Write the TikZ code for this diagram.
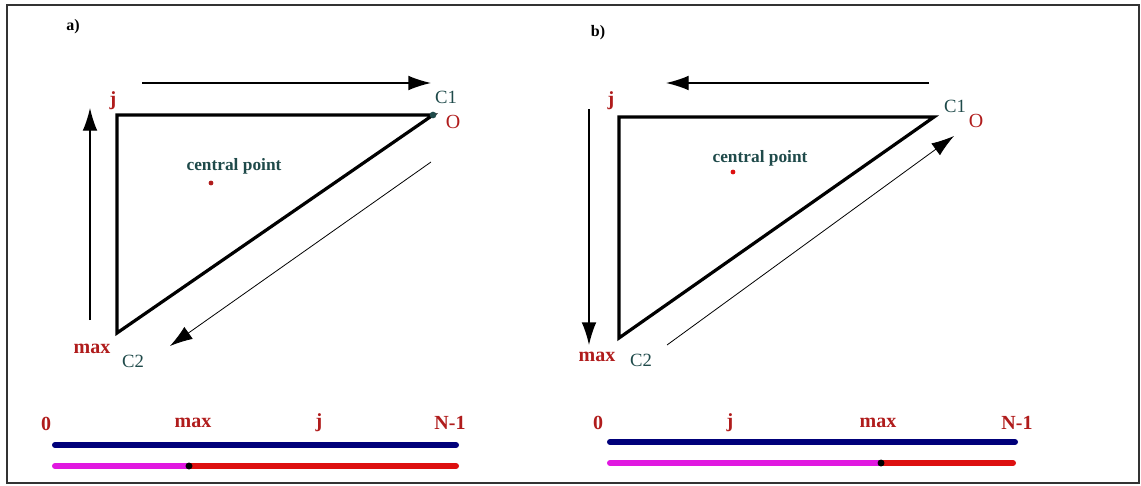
\documentclass[tikz,border=0pt]{standalone}
\usepackage{fontspec}
\setmainfont{Liberation Serif}
\definecolor{LBred}{HTML}{B01C1C}
\definecolor{LBteal}{HTML}{1F4A4A}
\definecolor{BARnavy}{HTML}{00007A}
\definecolor{BARmag}{HTML}{E018E0}
\definecolor{BARred}{HTML}{DD1010}
\usepackage{tikz}
\usetikzlibrary{arrows.meta}

\tikzset{
  redlab/.style={text=LBred,font=\bfseries\fontsize{15}{17}\selectfont,inner sep=0pt},
  teallab/.style={text=LBteal,font=\fontsize{14}{16}\selectfont,inner sep=0pt},
  tri/.style={line width=2.4pt,line join=miter},
  dir/.style={line width=1pt,-{Latex[length=17pt,width=11pt]}},
  thindir/.style={line width=0.6pt,-{Latex[length=17pt,width=11pt]}},
  bar/.style={line width=4.5pt,line cap=round}
}

\begin{document}
\begin{tikzpicture}[x=0.75pt,y=-0.75pt]
  \useasboundingbox (0,0) rectangle (1141,485);
  \draw[line width=1pt,black!80] (7,5) rectangle (1139,483);

  % a)
  \node[font=\bfseries\fontsize{12}{14}\selectfont] (alab) at (73,27) {a)};
  \coordinate (aJ) at (117,115);
  \coordinate (aO) at (433,115);
  \coordinate (aC2) at (117,333);
  \draw[tri] (aJ) -- (aO) -- (aC2) -- cycle;
  \fill[LBteal] (aO) circle (2.5pt);
  \node[redlab] (aj) at (113,101) {j};
  \node[teallab] (ac1) at (446,97) {C1};
  \node[redlab,font=\fontsize{15}{17}\selectfont] (ao) at (453,122) {O};
  \node[redlab] (amax) at (92,349) {max};
  \node[teallab] (ac2) at (133,361) {C2};
  \node[teallab,font=\bfseries\fontsize{13}{15}\selectfont] (acp) at (234,166) {central point};
  \fill[LBred] (211,183) circle (1.8pt);
  \coordinate (atop1) at (142,83);  \coordinate (atop2) at (431,83);
  \coordinate (aup1) at (90,320);   \coordinate (aup2) at (90,108);
  \coordinate (adg1) at (431,162);  \coordinate (adg2) at (170,346);
  \draw[dir] (atop1) -- (atop2);
  \draw[dir] (aup1) -- (aup2);
  \draw[thindir] (adg1) -- (adg2);

  \node[redlab] (abar0) at (46,424) {0};
  \node[redlab] (abarmax) at (193,423) {max};
  \node[redlab] (abarj) at (319,423) {j};
  \node[redlab] (abarN) at (450,423) {N-1};
  \coordinate (aL1) at (55,445);  \coordinate (aR1) at (456,445);
  \coordinate (aL2) at (55,466);  \coordinate (aM2) at (189,466);  \coordinate (aR2) at (456,466);
  \draw[bar,BARnavy] (aL1) -- (aR1);
  \draw[bar,BARmag] (aL2) -- (aM2);
  \draw[bar,BARred] (aM2) -- (aR2);
  \fill (aM2) circle (2.6pt);

  % b)
  \node[font=\bfseries\fontsize{12}{14}\selectfont] (blab) at (598,33) {b)};
  \coordinate (bJ) at (619,117);
  \coordinate (bO) at (934,117);
  \coordinate (bC2) at (619,338);
  \draw[tri] (bJ) -- (bO) -- (bC2) -- cycle;
  \node[redlab] (bj) at (611,101) {j};
  \node[teallab] (bc1) at (955,106) {C1};
  \node[redlab,font=\fontsize{15}{17}\selectfont] (bo) at (976,121) {O};
  \node[redlab] (bmax) at (597,357) {max};
  \node[teallab] (bc2) at (641,360) {C2};
  \node[teallab,font=\bfseries\fontsize{13}{15}\selectfont] (bcp) at (760,158) {central point};
  \fill[BARred] (733,172) circle (1.8pt);
  \coordinate (btop1) at (929,83);  \coordinate (btop2) at (666,83);
  \coordinate (bdn1) at (589,109);  \coordinate (bdn2) at (589,345);
  \coordinate (bdg1) at (667,345);  \coordinate (bdg2) at (954,136);
  \draw[dir] (btop1) -- (btop2);
  \draw[dir] (bdn1) -- (bdn2);
  \draw[thindir] (bdg1) -- (bdg2);

  \node[redlab] (bbar0) at (598,423) {0};
  \node[redlab] (bbarj) at (730,423) {j};
  \node[redlab] (bbarmax) at (878,423) {max};
  \node[redlab] (bbarN) at (1017,423) {N-1};
  \coordinate (bL1) at (610,442);  \coordinate (bR1) at (1015,442);
  \coordinate (bL2) at (610,463);  \coordinate (bM2) at (881,463);  \coordinate (bR2) at (1013,463);
  \draw[bar,BARnavy] (bL1) -- (bR1);
  \draw[bar,BARmag] (bL2) -- (bM2);
  \draw[bar,BARred] (bM2) -- (bR2);
  \fill (bM2) circle (2.6pt);
\end{tikzpicture}
\end{document}
